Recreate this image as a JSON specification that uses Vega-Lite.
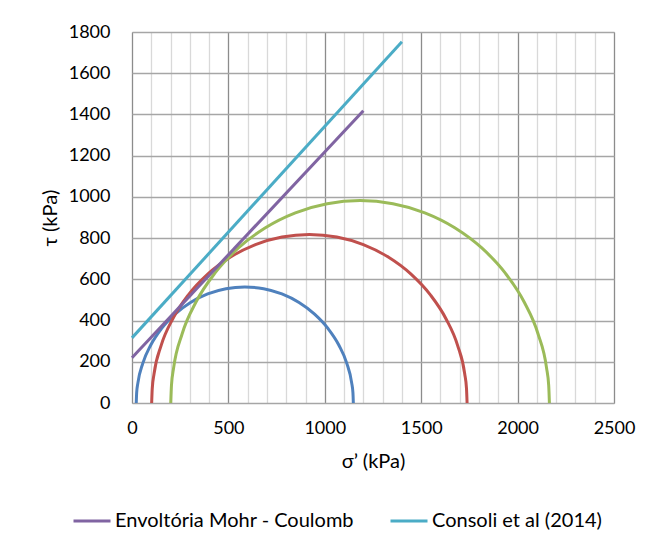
{
  "$schema": "https://vega.github.io/schema/vega-lite/v6.json",
  "autosize": "none",
  "width": 482,
  "height": 371,
  "padding": {"left": 132, "top": 32, "right": 31, "bottom": 141},
  "background": "white",
  "config": {
    "font": "Lato",
    "view": {"stroke": "#bfbfbf", "strokeWidth": 1},
    "axis": {"labelFont": "Lato", "titleFont": "Lato", "labelFontSize": 18, "titleFontSize": 20, "labelColor": "#000", "titleColor": "#000", "titleFontWeight": "normal", "domain": false, "ticks": false, "labelFlush": false}
  },
  "datasets": {
    "circles": [
      {"s": "blue", "i": 0, "x": 1148, "y": 0},
      {"s": "blue", "i": 1, "x": 1146, "y": 49.1},
      {"s": "blue", "i": 2, "x": 1139.4, "y": 97.7},
      {"s": "blue", "i": 3, "x": 1114.1, "y": 192.5},
      {"s": "blue", "i": 4, "x": 1072.6, "y": 281.5},
      {"s": "blue", "i": 5, "x": 1016.3, "y": 361.9},
      {"s": "blue", "i": 6, "x": 946.9, "y": 431.3},
      {"s": "blue", "i": 7, "x": 866.5, "y": 487.6},
      {"s": "blue", "i": 8, "x": 777.5, "y": 529.1},
      {"s": "blue", "i": 9, "x": 682.7, "y": 554.4},
      {"s": "blue", "i": 10, "x": 585, "y": 563},
      {"s": "blue", "i": 11, "x": 487.3, "y": 554.4},
      {"s": "blue", "i": 12, "x": 392.5, "y": 529.1},
      {"s": "blue", "i": 13, "x": 303.5, "y": 487.6},
      {"s": "blue", "i": 14, "x": 223.1, "y": 431.3},
      {"s": "blue", "i": 15, "x": 153.7, "y": 361.9},
      {"s": "blue", "i": 16, "x": 97.4, "y": 281.5},
      {"s": "blue", "i": 17, "x": 55.9, "y": 192.5},
      {"s": "blue", "i": 18, "x": 30.6, "y": 97.7},
      {"s": "blue", "i": 19, "x": 24.1, "y": 49.1},
      {"s": "blue", "i": 20, "x": 22, "y": 0},
      {"s": "red", "i": 0, "x": 1738, "y": 0},
      {"s": "red", "i": 1, "x": 1734.9, "y": 71.3},
      {"s": "red", "i": 2, "x": 1725.6, "y": 142.0},
      {"s": "red", "i": 3, "x": 1688.7, "y": 279.8},
      {"s": "red", "i": 4, "x": 1628.4, "y": 409},
      {"s": "red", "i": 5, "x": 1546.6, "y": 525.8},
      {"s": "red", "i": 6, "x": 1445.8, "y": 626.6},
      {"s": "red", "i": 7, "x": 1329, "y": 708.4},
      {"s": "red", "i": 8, "x": 1199.8, "y": 768.7},
      {"s": "red", "i": 9, "x": 1062, "y": 805.6},
      {"s": "red", "i": 10, "x": 920, "y": 818},
      {"s": "red", "i": 11, "x": 778, "y": 805.6},
      {"s": "red", "i": 12, "x": 640.2, "y": 768.7},
      {"s": "red", "i": 13, "x": 511, "y": 708.4},
      {"s": "red", "i": 14, "x": 394.2, "y": 626.6},
      {"s": "red", "i": 15, "x": 293.4, "y": 525.8},
      {"s": "red", "i": 16, "x": 211.6, "y": 409},
      {"s": "red", "i": 17, "x": 151.3, "y": 279.8},
      {"s": "red", "i": 18, "x": 114.4, "y": 142.0},
      {"s": "red", "i": 19, "x": 105.1, "y": 71.3},
      {"s": "red", "i": 20, "x": 102, "y": 0},
      {"s": "green", "i": 0, "x": 2165, "y": 0},
      {"s": "green", "i": 1, "x": 2161.3, "y": 85.6},
      {"s": "green", "i": 2, "x": 2150.1, "y": 170.5},
      {"s": "green", "i": 3, "x": 2105.8, "y": 335.8},
      {"s": "green", "i": 4, "x": 2033.4, "y": 491},
      {"s": "green", "i": 5, "x": 1935.2, "y": 631.2},
      {"s": "green", "i": 6, "x": 1814.2, "y": 752.2},
      {"s": "green", "i": 7, "x": 1674, "y": 850.4},
      {"s": "green", "i": 8, "x": 1518.8, "y": 922.8},
      {"s": "green", "i": 9, "x": 1353.5, "y": 967.1},
      {"s": "green", "i": 10, "x": 1183, "y": 982},
      {"s": "green", "i": 11, "x": 1012.5, "y": 967.1},
      {"s": "green", "i": 12, "x": 847.2, "y": 922.8},
      {"s": "green", "i": 13, "x": 692, "y": 850.4},
      {"s": "green", "i": 14, "x": 551.8, "y": 752.2},
      {"s": "green", "i": 15, "x": 430.8, "y": 631.2},
      {"s": "green", "i": 16, "x": 332.6, "y": 491},
      {"s": "green", "i": 17, "x": 260.2, "y": 335.8},
      {"s": "green", "i": 18, "x": 215.9, "y": 170.5},
      {"s": "green", "i": 19, "x": 204.7, "y": 85.6},
      {"s": "green", "i": 20, "x": 201, "y": 0}
    ],
    "lines": [
      {"s": "Envoltória Mohr - Coulomb", "x": 0, "y": 220},
      {"s": "Envoltória Mohr - Coulomb", "x": 1200, "y": 1418},
      {"s": "Consoli et al (2014)", "x": 0, "y": 316},
      {"s": "Consoli et al (2014)", "x": 1400, "y": 1753}
    ]
  },
  "encoding": {
    "x": {
      "field": "x", "type": "quantitative",
      "scale": {"domain": [0, 2500], "nice": false},
      "axis": {
        "title": "σ’ (kPa)",
        "values": [0,100,200,300,400,500,600,700,800,900,1000,1100,1200,1300,1400,1500,1600,1700,1800,1900,2000,2100,2200,2300,2400,2500],
        "labelExpr": "datum.value % 500 === 0 ? datum.label : ''",
        "format": "d",
        "labelPadding": 16,
        "titlePadding": 14,
        "gridColor": {"condition": {"test": "datum.value % 500 === 0", "value": "#8c8c8c"}, "value": "#d9d9d9"},
        "gridWidth": 1.3
      }
    },
    "y": {
      "field": "y", "type": "quantitative",
      "scale": {"domain": [0, 1800], "nice": false},
      "axis": {
        "title": "τ (kPa)",
        "values": [0,200,400,600,800,1000,1200,1400,1600,1800],
        "format": "d",
        "labelPadding": 22,
        "titlePadding": 8,
        "gridColor": "#a6a6a6",
        "gridWidth": 1.3
      }
    }
  },
  "layer": [
    {
      "data": {"name": "circles"},
      "mark": {"type": "line", "strokeWidth": 3, "interpolate": "monotone"},
      "encoding": {
        "detail": {"field": "s"},
        "order": {"field": "i"},
        "color": {
          "field": "s", "type": "nominal", "legend": null,
          "scale": {"domain": ["blue", "red", "green"], "range": ["#4F81BD", "#C0504D", "#9BBB59"]}
        }
      }
    },
    {
      "data": {"name": "lines"},
      "mark": {"type": "line", "strokeWidth": 3},
      "encoding": {
        "stroke": {
          "field": "s", "type": "nominal",
          "scale": {"domain": ["Envoltória Mohr - Coulomb", "Consoli et al (2014)"], "range": ["#8064A2", "#4BACC6"]},
          "legend": {
            "title": null,
            "orient": "none",
            "direction": "horizontal",
            "legendX": -60,
            "legendY": 469,
            "symbolType": "stroke",
            "symbolSize": 1369,
            "symbolStrokeWidth": 3,
            "labelFont": "Lato",
            "labelFontSize": 20,
            "labelColor": "#000",
            "labelOffset": 3,
            "columnPadding": 30,
            "labelLimit": 400
          }
        }
      }
    }
  ]
}
